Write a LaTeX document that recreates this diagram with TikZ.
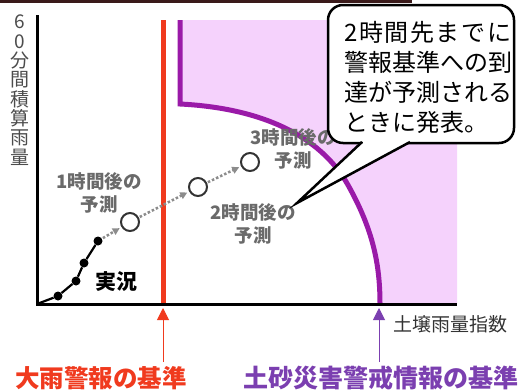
\documentclass[tikz,border=0pt]{standalone}
\usepackage{fontspec}
\setmainfont{Noto Sans CJK JP}
\usetikzlibrary{arrows.meta}
\definecolor{redline}{HTML}{F03A1E}
\definecolor{purpline}{HTML}{9A1AA8}
\definecolor{pinkfill}{HTML}{F5D2FC}
\definecolor{violet}{HTML}{7B3FB0}
\definecolor{glabel}{HTML}{6A6A6A}
\definecolor{topbar}{HTML}{3A1A1A}
\tikzset{
  dot/.style={circle,fill=black,inner sep=0pt,minimum size=9pt},
  ocirc/.style={circle,draw=black!80,line width=2pt,fill=white,inner sep=0pt,minimum size=18pt},
  darr/.style={draw=black!45,line width=2.5pt,dotted,shorten >=2pt,shorten <=1pt,-{Triangle[length=7pt,width=7pt]}},
  glab/.style={text=glabel,font=\fontsize{18.5}{23}\selectfont\bfseries,align=center,inner sep=0pt},
  ctext/.style={font=\fontsize{24}{28}\selectfont,anchor=west,inner sep=0pt},
  upred/.style={draw=redline,line width=1pt,-{Triangle[length=12pt,width=12pt]}},
  upvio/.style={draw=violet,line width=1pt,-{Triangle[length=12pt,width=12pt]}},
}
\begin{document}
\begin{tikzpicture}[x=1pt,y=-1pt]
\useasboundingbox (0,0) rectangle (518,391);
% top bar
\fill[topbar] (0,0) rectangle (412,3);
% pink region
\fill[pinkfill] (180,20) -- (457,20) -- (457,304) -- (380,304)
  .. controls (380,262) and (372,228) .. (348,185)
  .. controls (320,135) and (260,108) .. (180,104) -- cycle;
% purple boundary
\draw[purpline,line width=5pt] (180,20) -- (180,104)
  .. controls (260,108) and (320,135) .. (348,185)
  .. controls (372,228) and (380,262) .. (380,304);
% red criterion line
\draw[redline,line width=5pt] (163,20) -- (163,304);
% axes
\coordinate (ytop) at (37,15);
\coordinate (o) at (37,304);
\coordinate (xend) at (457,304);
\draw[line width=3pt] (ytop) -- (o) -- (xend);
% y label
\node[text=black!70,font=\fontsize{19}{19.3}\selectfont,align=center,inner sep=0pt,anchor=north] (ylab) at (20,15)
  {6\\0\\分\\間\\積\\算\\雨\\量};
% x label
\node[text=black!80,font=\fontsize{19}{19}\selectfont,anchor=west,inner sep=0pt] (xlab) at (393,324) {土壌雨量指数};
% observed data
\node[dot] (p1) at (58,296) {};
\node[dot] (p2) at (76,281) {};
\node[dot] (p3) at (84,263) {};
\node[dot] (p4) at (98,241) {};
\draw[line width=2.2pt] (o) -- (p1) -- (p2) -- (p3) -- (p4);
\node[font=\fontsize{21}{21}\selectfont\bfseries,inner sep=0pt] (obs) at (116,282) {実況};
% forecasts
\node[ocirc] (c1) at (130,222) {};
\node[ocirc] (c2) at (198,187) {};
\node[ocirc] (c3) at (250,162) {};
\draw[darr] (p4) -- (c1);
\draw[darr] (c1) -- (c2);
\draw[darr] (c2) -- (c3);
\node[glab] (l1) at (99,193) {1時間後の\\予測};
\node[glab] (l2) at (253,223.5) {2時間後の\\予測};
\node[glab] (l3) at (293,148.5) {3時間後の\\予測};
% callout
\draw[line width=2.5pt,fill=white,rounded corners=15pt] (328,5) rectangle (514,143);
\fill[white] (363,138) -- (363,143) -- (297,203) -- (409,143) -- (409,138) -- cycle;
\coordinate (tip) at (297,203);
\coordinate (bl) at (362,142);
\coordinate (br) at (410,142);
\draw[line width=2.5pt,line join=miter] (bl) -- (tip) -- (br);
\node[ctext] (t1) at (344,32) {\makebox[167pt][s]{2\hfill 時\hfill 間\hfill 先\hfill ま\hfill で\hfill に}};
\node[ctext] (t2) at (344,62) {警報基準への到};
\node[ctext] (t3) at (344,92) {達が予測される};
\node[ctext] (t4) at (344,122) {ときに発表。};
% bottom arrows and labels
\coordinate (ra0) at (163,362);
\coordinate (ra1) at (163,308);
\coordinate (va0) at (379,362);
\coordinate (va1) at (379,308);
\draw[upred] (ra0) -- (ra1);
\draw[upvio] (va0) -- (va1);
\node[text=redline,font=\fontsize{24.5}{25}\selectfont\bfseries,inner sep=0pt] (rlab) at (101,378) {大雨警報の基準};
\node[text=violet,font=\fontsize{25}{25}\selectfont\bfseries,inner sep=0pt] (vlab) at (381,378) {土砂災害警戒情報の基準};
\end{tikzpicture}
\end{document}
